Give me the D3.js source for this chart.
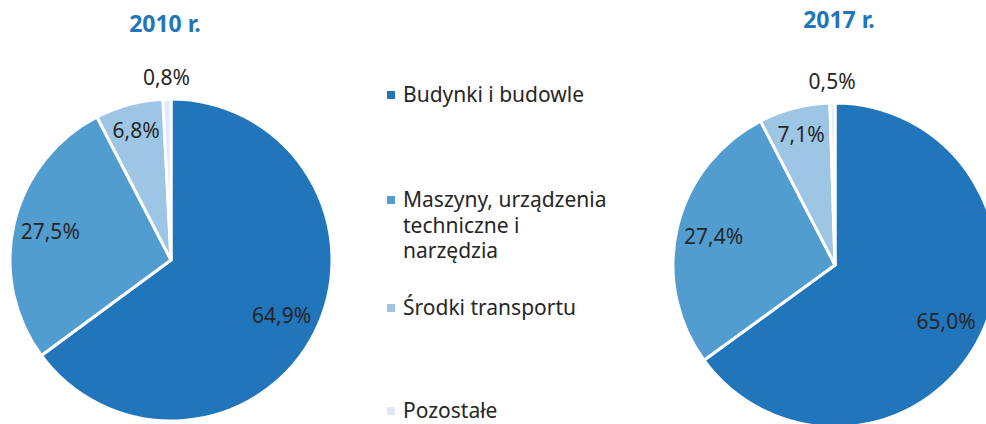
<html>
  <meta charset="utf-8" />
  <script src="https://d3js.org/d3.v7.min.js"></script>
  <style>
    body { margin: 0; background: #fff; }
    text { font-family: "Noto Sans", "Open Sans", sans-serif; }
  </style>
  <body>
    <div id="chart"></div>
    <script>
      // categories and shares (%)
      const categories = [
        "Budynki i budowle",
        "Maszyny, urządzenia techniczne i narzędzia",
        "Środki transportu",
        "Pozostałe"
      ];
      const legendLines = [
        ["Budynki i budowle"],
        ["Maszyny, urządzenia", "techniczne i", "narzędzia"],
        ["Środki transportu"],
        ["Pozostałe"]
      ];
      const years = ["2010 r.", "2017 r."];
      const values2010 = [64.9, 27.5, 6.8, 0.8];
      const values2017 = [65.0, 27.4, 7.1, 0.5];

      const colors = ["#2175bb", "#519dd0", "#9dc6e5", "#dde9f5"];

      const W = 986, H = 424;
      const svg = d3.select("#chart").append("svg")
        .attr("width", W).attr("height", H);

      const color = d3.scaleOrdinal().domain(categories).range(colors);
      const fmt = v => d3.format(".1f")(v).replace(".", ",") + "%";

      const pies = [
        { title: years[0], values: values2010, cx: 171, cy: 260, r: 161, tx: 165, ty: 32 },
        { title: years[1], values: values2017, cx: 835, cy: 265, r: 162, tx: 839, ty: 28 }
      ];

      const pie = d3.pie().sort(null).value(d => d.value);

      pies.forEach(p => {
        const data = categories.map((c, i) => ({ key: c, value: p.values[i] }));
        const arcs = pie(data);
        const arc = d3.arc().innerRadius(0).outerRadius(p.r);
        const labelArc = d3.arc().innerRadius(p.r * 0.77).outerRadius(p.r * 0.77);
        const midArc = d3.arc().innerRadius(p.r * 0.83).outerRadius(p.r * 0.83);
        const smallArc = d3.arc().innerRadius(p.r + 21).outerRadius(p.r + 21);

        const g = svg.append("g").attr("transform", `translate(${p.cx},${p.cy})`);

        g.selectAll("path")
          .data(arcs)
          .join("path")
          .attr("d", arc)
          .attr("fill", d => color(d.data.key))
          .attr("stroke", "#fff")
          .attr("stroke-width", 3)
          .attr("stroke-linejoin", "round");

        g.selectAll("text.lbl")
          .data(arcs)
          .join("text")
          .attr("class", "lbl")
          .attr("transform", d => {
            let c;
            if (d.data.value < 2) c = smallArc.centroid(d);
            else if (d.data.value < 10) c = midArc.centroid(d);
            else c = labelArc.centroid(d);
            return `translate(${c[0]},${c[1]})`;
          })
          .attr("text-anchor", "middle")
          .attr("dy", "0.35em")
          .attr("font-size", 21)
          .attr("fill", "#262626")
          .text(d => fmt(d.data.value));

        svg.append("text")
          .attr("x", p.tx).attr("y", p.ty)
          .attr("text-anchor", "middle")
          .attr("font-size", 23)
          .attr("font-weight", "bold")
          .attr("fill", "#2175bb")
          .text(p.title);
      });

      // legend
      const legendY = [102, 207, 315, 418];
      const legend = svg.append("g").attr("transform", "translate(387,0)");
      categories.forEach((c, i) => {
        legend.append("rect")
          .attr("x", 0).attr("y", legendY[i] - 11)
          .attr("width", 8).attr("height", 8)
          .attr("fill", color(c));
        const t = legend.append("text")
          .attr("x", 16).attr("y", legendY[i])
          .attr("font-size", 21)
          .attr("fill", "#262626");
        legendLines[i].forEach((line, j) => {
          t.append("tspan")
            .attr("x", 16)
            .attr("dy", j === 0 ? 0 : 25.5)
            .text(line);
        });
      });
    </script>
  </body>
</html>
